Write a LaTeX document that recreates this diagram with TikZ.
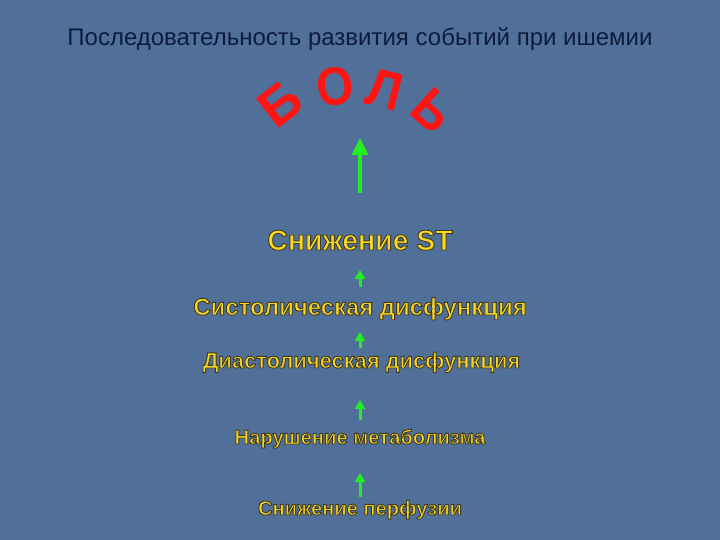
\documentclass[tikz,border=0pt]{standalone}
\usepackage{fontspec}
\setmainfont{Liberation Sans}
\usetikzlibrary{arrows.meta,calc}
\definecolor{bg}{HTML}{50709A}
\definecolor{ttl}{HTML}{0C1C3C}
\definecolor{boltred}{HTML}{FF1414}
\definecolor{txtyel}{HTML}{F8D820}
\definecolor{arrgreen}{HTML}{22EE22}
\newcommand\outl[1]{\special{pdf:literal direct 2 Tr 0.9 w 0.25 0.22 0.12 RG}#1\special{pdf:literal direct 0 Tr}}
\begin{document}
\begin{tikzpicture}[x=1pt,y=-1pt,
  chain/.style={anchor=base,inner sep=0pt,font=\bfseries,text=txtyel},
  letter/.style={inner sep=0pt,text=boltred,font=\bfseries\fontsize{54}{54}\selectfont},
  uparr/.style={draw=arrgreen,line width=3pt,-{Triangle[length=9pt,width=10pt]}},
  bigarr/.style={draw=arrgreen,line width=3.6pt,-{Triangle[length=17pt,width=16pt]}}]
\useasboundingbox (0,0) rectangle (720,540);
\fill[bg] (0,0) rectangle (720,540);
\node[anchor=base,inner sep=0pt,text=ttl,font=\fontsize{24}{24}\selectfont] (title) at (360,46) {Последовательность развития событий при ишемии};
\node[letter,rotate=38] (b) at (280,104) {Б};
\node[letter,rotate=8,xscale=0.88] (o) at (335,87) {О};
\node[letter,rotate=-14,xscale=0.92] (l) at (385,90) {Л};
\node[letter,rotate=-42,xscale=0.92] (soft) at (433,111) {Ь};
\node[chain,font=\bfseries\fontsize{28.4}{28.4}\selectfont] (st) at (360,250) {\outl{Снижение ST}};
\node[chain,font=\bfseries\fontsize{23.9}{23.9}\selectfont] (sys) at (360,315) {\outl{Систолическая дисфункция}};
\node[chain,font=\bfseries\fontsize{21.9}{21.9}\selectfont] (dia) at (361.5,368) {\outl{Диастолическая дисфункция}};
\node[chain,font=\bfseries\fontsize{20.2}{20.2}\selectfont] (nar) at (360,444) {\outl{Нарушение метаболизма}};
\node[chain,font=\bfseries\fontsize{20.1}{20.1}\selectfont] (perf) at (360,515) {\outl{Снижение перфузии}};
\draw[bigarr] ($(st.base)+(0,-57)$) -- ($(st.base)+(0,-112)$);
\draw[uparr] ($(sys.base)+(0,-28)$) -- ($(st.base)+(0,20)$);
\draw[uparr] ($(dia.base)+(-1.5,-20)$) -- ($(sys.base)+(0,17)$);
\draw[uparr] ($(nar.base)+(0,-24)$) -- ($(dia.base)+(-1.5,32)$);
\draw[uparr] ($(perf.base)+(0,-18)$) -- ($(nar.base)+(0,29)$);
\end{tikzpicture}
\end{document}
